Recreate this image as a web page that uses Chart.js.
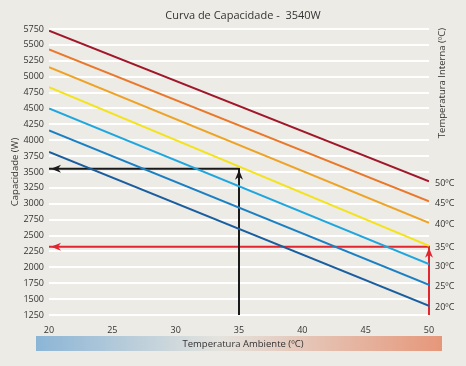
<!DOCTYPE html>
<html>
<head>
<meta charset="utf-8">
<script src="https://cdn.jsdelivr.net/npm/chart.js@4.4.0/dist/chart.umd.min.js"></script>
<style>
  html, body { margin: 0; padding: 0; background: #ecebe5; }
  #wrap { position: relative; width: 466px; height: 366px; }
</style>
</head>
<body>
<div id="wrap"><canvas id="myChart" width="466" height="366"></canvas></div>
<script>
// temperatura ambiente (x) - inicio e fim de cada curva
const ambiente = [20, 50];
// temperatura interna de cada curva
const internas = ['50ºC', '45ºC', '40ºC', '35ºC', '30ºC', '25ºC', '20ºC'];
// capacidade (W) em 20ºC e 50ºC
const curva50 = [5725, 3355];
const curva45 = [5430, 3040];
const curva40 = [5150, 2700];
const curva35 = [4835, 2340];
const curva30 = [4500, 2050];
const curva25 = [4155, 1725];
const curva20 = [3815, 1395];
const cores = ['#a0172a', '#e9782b', '#eea326', '#f4e31c', '#1fa6de', '#1b80c3', '#1a5e9f'];
// leituras marcadas com setas
const leituraPreta = { x: 35, y: 3550 };
const leituraVermelha = { x: 50, y: 2325 };
const capMin = 1250, capMax = 5750;

const curvas = [curva50, curva45, curva40, curva35, curva30, curva25, curva20];

const datasets = curvas.map((c, i) => ({
  label: internas[i],
  data: ambiente.map((x, j) => ({ x: x, y: c[j] })),
  borderColor: cores[i],
  borderWidth: 2,
  pointRadius: 0,
  tension: 0,
}));

// setas (linhas + cabeca desenhada no plugin)
function seta(p, cor) {
  return {
    label: 'seta',
    data: [{ x: p.x, y: capMin }, { x: p.x, y: p.y }, { x: ambiente[0], y: p.y }],
    borderColor: cor,
    borderWidth: 2,
    pointRadius: 0,
    tension: 0,
    clip: false,
    seta: true,
  };
}
datasets.push(seta(leituraPreta, '#1a1a1a'));
datasets.push(seta(leituraVermelha, '#e2262f'));

const fonte = '"Open Sans", "DejaVu Sans", sans-serif';

const extras = {
  id: 'extras',
  afterDatasetsDraw(chart) {
    const ctx = chart.ctx;
    const xs = chart.scales.x, ys = chart.scales.y;
    chart.data.datasets.forEach(ds => {
      if (!ds.seta) return;
      ctx.save();
      ctx.fillStyle = ds.borderColor;
      // cabeca para cima no canto
      const c = ds.data[1];
      const cx = xs.getPixelForValue(c.x), cy = ys.getPixelForValue(c.y);
      ctx.beginPath();
      ctx.moveTo(cx, cy + 1);
      ctx.lineTo(cx - 4, cy + 11);
      ctx.lineTo(cx, cy + 8);
      ctx.lineTo(cx + 4, cy + 11);
      ctx.closePath();
      ctx.fill();
      // cabeca para a esquerda
      const e = ds.data[2];
      const ex = xs.getPixelForValue(e.x) + 2, ey = ys.getPixelForValue(e.y);
      ctx.beginPath();
      ctx.moveTo(ex, ey);
      ctx.lineTo(ex + 10, ey - 4);
      ctx.lineTo(ex + 7, ey);
      ctx.lineTo(ex + 10, ey + 4);
      ctx.closePath();
      ctx.fill();
      ctx.restore();
    });
    // rotulos a direita
    ctx.save();
    ctx.font = '9px ' + fonte;
    ctx.fillStyle = '#333';
    ctx.textBaseline = 'middle';
    curvas.forEach((c, i) => {
      ctx.fillText(internas[i], xs.getPixelForValue(ambiente[1]) + 6, ys.getPixelForValue(c[1]) + 2);
    });
    ctx.restore();
  },
  afterDraw(chart) {
    const ctx = chart.ctx;
    ctx.save();
    // titulo
    ctx.font = '11px ' + fonte;
    ctx.fillStyle = '#333';
    ctx.textAlign = 'center';
    ctx.textBaseline = 'middle';
    ctx.fillText('Curva de Capacidade -  3540W', 243, 16);
    // titulo da direita
    ctx.save();
    ctx.translate(442, 83);
    ctx.rotate(-Math.PI / 2);
    ctx.font = '9.5px ' + fonte;
    ctx.fillText('Temperatura Interna (ºC)', 0, 0);
    ctx.restore();
    // barra de temperatura ambiente
    const g = ctx.createLinearGradient(36, 0, 442, 0);
    g.addColorStop(0, '#8bb5d6');
    g.addColorStop(0.45, '#e4e3de');
    g.addColorStop(1, '#e6977a');
    ctx.fillStyle = g;
    ctx.fillRect(36, 336, 406, 15);
    ctx.fillStyle = '#333';
    ctx.font = '9.5px ' + fonte;
    ctx.fillText('Temperatura Ambiente (ºC)', 243, 344);
    ctx.restore();
  }
};

const ctx = document.getElementById('myChart').getContext('2d');
new Chart(ctx, {
  type: 'line',
  data: { datasets: datasets },
  plugins: [extras],
  options: {
    responsive: false,
    animation: false,
    layout: { padding: { top: 29, right: 37, bottom: 31, left: 0 } },
    plugins: { legend: { display: false }, tooltip: { enabled: false } },
    scales: {
      x: {
        type: 'linear',
        min: 20, max: 50,
        afterFit: s => { s.height = 20; },
        grid: { display: false },
        border: { display: false },
        ticks: { stepSize: 5, color: '#333', padding: 2, font: { family: fonte, size: 9 } },
      },
      y: {
        type: 'linear',
        min: capMin, max: capMax,
        afterFit: s => { s.width = 49; },
        grid: { color: '#ffffff', lineWidth: 2, drawTicks: false },
        border: { display: false },
        ticks: { stepSize: 250, color: '#333', padding: 5, font: { family: fonte, size: 9 }, callback: v => String(v) },
        title: { display: true, text: 'Capacidade (W)', color: '#333', padding: { top: 10, bottom: 0 }, font: { family: fonte, size: 9.5 } },
      },
    },
  },
});
</script>
</body>
</html>
